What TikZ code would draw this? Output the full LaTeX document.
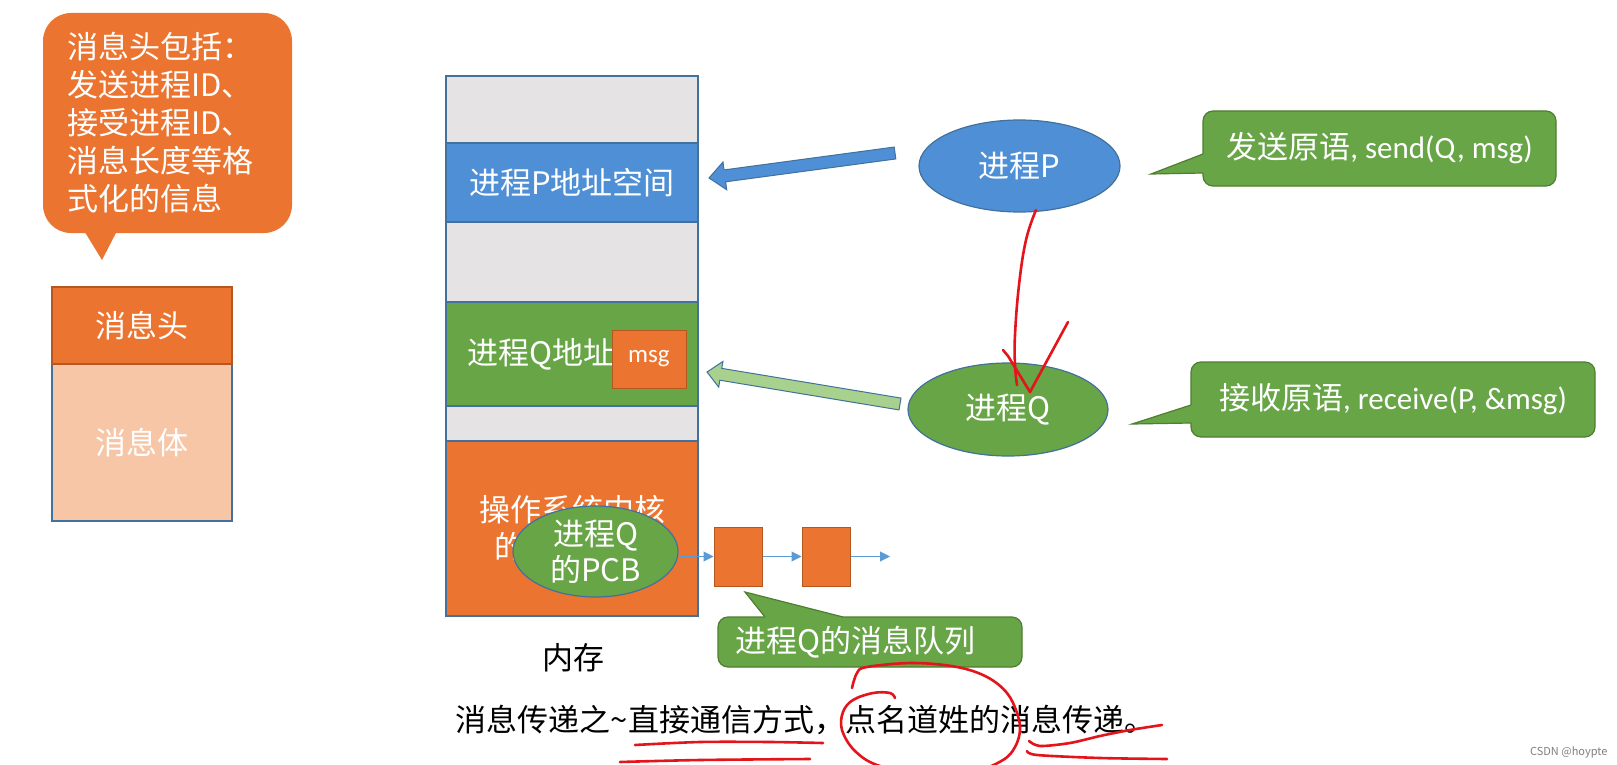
\documentclass[tikz,border=0pt]{standalone}
\usepackage{fontspec}
\setmainfont{Noto Sans CJK SC}
\newfontfamily\lat{Carlito}
\usetikzlibrary{shapes.geometric,arrows.meta,calc}

\definecolor{ppOrange}{HTML}{EB7430}
\definecolor{ppOrangeDk}{HTML}{B4581F}
\definecolor{ppPeach}{HTML}{F7C6A6}
\definecolor{ppBlue}{HTML}{4F8FD5}
\definecolor{ppBlueLt}{HTML}{5B9BD5}
\definecolor{ppBlueDk}{HTML}{41719C}
\definecolor{ppGreen}{HTML}{68A546}
\definecolor{ppGreenDk}{HTML}{4E7F30}
\definecolor{ppLtGreen}{HTML}{A9D18E}
\definecolor{ppGray}{HTML}{E6E3E4}
\definecolor{inkRed}{HTML}{E3141B}

% block arrow: style, tail, tip, shaft half width, head half width, head length
\newcommand{\blockarrow}[6]{%
  \coordinate (ba-h) at ($(#3)!#6!(#2)$);
  \draw[#1] ($(#2)!#4!90:(#3)$) -- ($(ba-h)!#4!90:(#3)$) -- ($(ba-h)!#5!90:(#3)$)
    -- (#3) -- ($(ba-h)!#5!-90:(#3)$) -- ($(ba-h)!#4!-90:(#3)$) -- ($(#2)!#4!-90:(#3)$) -- cycle;
}

\begin{document}
\begin{tikzpicture}[x=1pt, y=-1pt, >={Triangle[length=10pt,width=10pt]}]

\tikzstyle{seg}=[draw=ppBlueDk, line width=1.2pt, minimum width=252pt, inner sep=0pt, text=white, align=center, font=\fontsize{31}{37}\selectfont]
\tikzstyle{proc}=[ellipse, draw=ppBlueDk, line width=1.2pt, inner sep=0pt, text=white, align=center, font=\fontsize{31}{36}\selectfont]
\tikzstyle{bubble}=[draw=ppGreenDk, line width=1.2pt, fill=ppGreen, rounded corners=10pt, inner sep=0pt, text=white, font=\fontsize{31}{37}\selectfont]
\tikzstyle{qbox}=[draw=ppOrangeDk, line width=1pt, fill=ppOrange, minimum width=48pt, minimum height=59pt, inner sep=0pt]
\tikzstyle{ink}=[draw=inkRed, line width=2.6pt, line cap=round, line join=round]
\tikzstyle{plain}=[font=\fontsize{31}{37}\selectfont]

\path[use as bounding box, fill=white] (0,0) rectangle (1617,765);

% --- left: message layout ---
\fill[ppOrange] (83,229) -- (102,260) -- (118,229) -- cycle;
\node[fill=ppOrange, rounded corners=28pt, minimum width=249pt, minimum height=220pt, inner xsep=24pt, inner ysep=0pt, text width=201pt, align=left, text=white, font=\fontsize{31}{38}\selectfont] (hdrnote) at (167.5,123) {消息头包括：\\发送进程ID、\\接受进程ID、\\消息长度等格\\式化的信息};

\node[draw=ppBlueDk, fill=ppPeach, line width=1.2pt, minimum width=180pt, minimum height=157pt, text=white, plain] (body) at (142,442.5) {消息体};
\node[draw=ppOrangeDk, fill=ppOrange, line width=1.2pt, minimum width=180pt, minimum height=77pt, text=white, plain] (head) at (142,325.5) {消息头};

% --- middle: memory ---
\node[seg, fill=ppGray, minimum height=67pt] (m1) at (572,109.5) {};
\node[seg, fill=ppBlue, minimum height=79pt] (pseg) at (572,182.5) {进程P地址空间};
\node[seg, fill=ppGray, minimum height=80pt] (m3) at (572,262) {};
\node[seg, fill=ppGreen, minimum height=104pt] (qseg) at (572,354) {进程Q地址空间};
\node[seg, fill=ppGray, minimum height=35pt] (m5) at (572,423.5) {};
\node[seg, fill=ppOrange, minimum height=175pt] (kseg) at (572,528.5) {操作系统内核\\的地址空间};
\node[plain] (mem) at (573,658) {内存};

\node[draw=ppOrangeDk, fill=ppOrange, line width=1pt, minimum width=74pt, minimum height=58pt, inner sep=0pt, text=white, font=\lat\fontsize{25}{30}\selectfont] (msg) at (649,359) {msg};

% --- kernel: PCB and message queue ---
\node[proc, fill=ppGreen, minimum width=165pt, minimum height=91pt] (pcb) at (595.5,551.5) {进程Q\\的PCB};
\node[qbox] (q1) at (738,556.5) {};
\node[qbox] (q2) at (826,556.5) {};
\coordinate (qend) at (890,556.5);
\draw[->, ppBlueLt, line width=1pt] (pcb.east |- q1) -- (q1.west);
\draw[->, ppBlueLt, line width=1pt] (q1.east) -- (q2.west);
\draw[->, ppBlueLt, line width=1pt] (q2.east) -- (qend);

\node[bubble, minimum width=304pt, minimum height=50pt, text width=270pt, align=left] (qnote) at (870,642) {进程Q的消息队列};
\fill[ppGreen] (765,617) -- (745,592) -- (843,617) -- (843,621) -- (765,621) -- cycle;
\draw[ppGreenDk, line width=1.2pt] (765,617) -- (745,592) -- (843,617);

% --- right: processes ---
\node[proc, fill=ppBlue, minimum width=201pt, minimum height=92pt] (P) at (1019.5,166) {进程P};
\node[proc, fill=ppGreen, minimum width=200pt, minimum height=93pt] (Q) at (1008,409.5) {进程Q};

\node[bubble, minimum width=353pt, minimum height=75pt] (sendc) at (1379.5,148.5) {发送原语{\lat, send(Q, msg)}};
\fill[ppGreen] (1203,154) -- (1151,174) -- (1203,173) -- (1207,173) -- (1207,154) -- cycle;
\draw[ppGreenDk, line width=1.2pt] (1203,154) -- (1151,174) -- (1203,173);

\node[bubble, minimum width=404pt, minimum height=75pt] (recvc) at (1393,399.5) {接收原语{\lat, receive(P, \&msg)}};
\fill[ppGreen] (1191,405) -- (1132,424) -- (1191,423) -- (1195,423) -- (1195,405) -- cycle;
\draw[ppGreenDk, line width=1.2pt] (1191,405) -- (1132,424) -- (1191,423);

% --- block arrows into the address spaces ---
\coordinate (ptail) at (895,153);
\coordinate (ptip) at (709,178);
\blockarrow{fill=ppBlue, draw=ppBlueDk, line width=1pt}{ptail}{ptip}{6pt}{14pt}{16pt}
\coordinate (qtail) at (900,404);
\coordinate (qtip) at (707,372);
\blockarrow{fill=ppLtGreen, draw=ppBlueDk, line width=1pt}{qtail}{qtip}{6pt}{13pt}{14pt}

% --- caption ---
\node[plain] (caption) at (805.5,720) {消息传递之\textasciitilde 直接通信方式，点名道姓的消息传递。};
\node[anchor=east, text=gray, font=\fontsize{11}{13}\selectfont] (wm) at (1611,752) {CSDN @hoypte};

% --- red pen marks ---
\draw[ink] plot[smooth, tension=0.7] coordinates {(1036,210) (1026,240) (1019,285) (1015,335) (1015,365) (1017,385)};
\draw[ink] (1003,350) -- (1008,356) -- (1030,392) -- (1068,322);
\draw[ink] plot[smooth] coordinates {(635,745) (700,742) (770,742) (823,743)};
\draw[ink] plot[smooth] coordinates {(620,762) (700,760) (810,759)};
\draw[ink] plot[smooth, tension=0.6] coordinates {(852,688) (857,673) (867,667) (913,663) (957,667) (987,677) (1007,693) (1017,713) (1020,730) (1015,747) (1003,760) (975,771) (930,774) (880,766) (855,751) (842,730) (843,712) (853,700) (873,693) (890,693) (895,698)};
\draw[ink] plot[smooth] coordinates {(1029,741) (1040,746) (1070,743) (1100,736) (1130,730) (1162,725)};
\draw[ink] plot[smooth] coordinates {(1027,751) (1037,755) (1100,758) (1167,759)};

\end{tikzpicture}
\end{document}
